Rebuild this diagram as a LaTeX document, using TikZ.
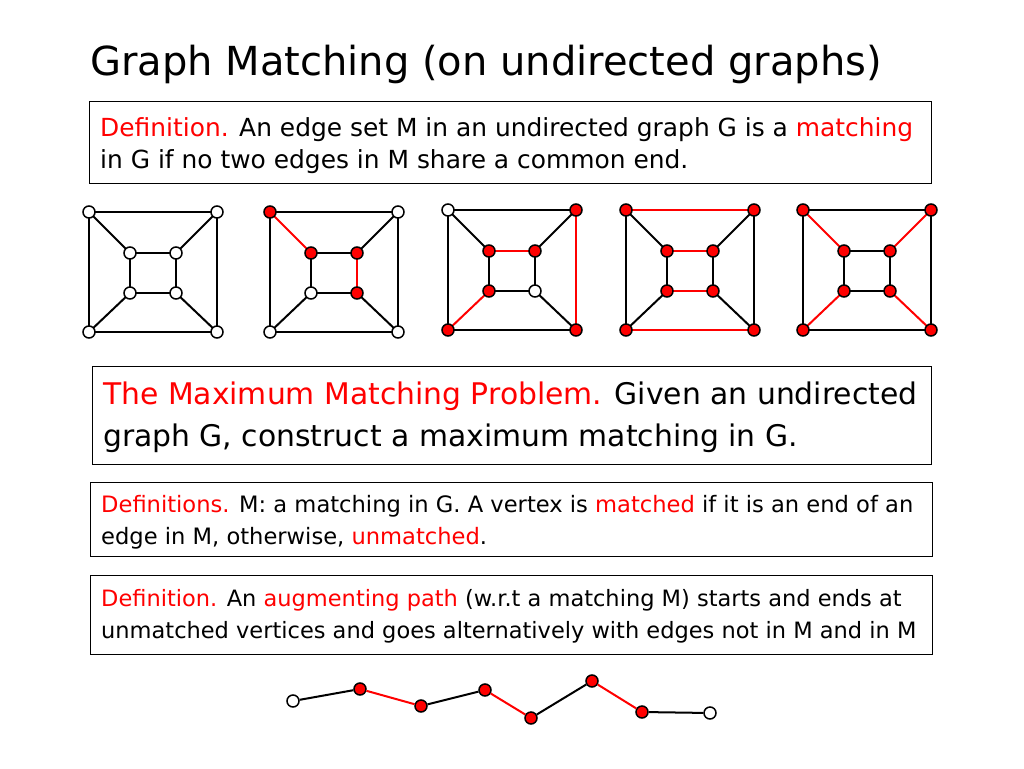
\documentclass[tikz,border=0pt]{standalone}
\usepackage{fontspec}
\setmainfont{DejaVu Sans}
\begin{document}
\begin{tikzpicture}[x=1pt,y=-1pt,
  v/.style={circle,draw,line width=1.5pt,fill=white,inner sep=0pt,minimum size=12pt},
  r/.style={v,fill=red},
  e/.style={line width=2pt},
  re/.style={e,red},
  box/.style={draw,line width=1pt},
  t/.style={anchor=base west,inner sep=0pt}]
\useasboundingbox (0,0) rectangle (1024,768);
\node[t,font=\fontsize{40}{44}\selectfont] (title) at (90,75) {Graph Matching (on undirected graphs)};
\draw[box] (89,101) rectangle (931,183);
\node[t,font=\fontsize{24.9}{28}\selectfont] (b1a) at (100,136) {\textcolor{red}{Definition.} An edge set M in an undirected graph G is a \textcolor{red}{matching}};
\node[t,font=\fontsize{24.9}{28}\selectfont] (b1b) at (100,168) {in G if no two edges in M share a common end.};
\draw[box] (92,366) rectangle (931,464);
\node[t,font=\fontsize{29.8}{34}\selectfont] (b2a) at (103,404) {\textcolor{red}{The Maximum Matching Problem.} Given an undirected};
\node[t,font=\fontsize{29.8}{34}\selectfont] (b2b) at (103,446) {graph G, construct a maximum matching in G.};
\draw[box] (90,482) rectangle (932,556);
\node[t,font=\fontsize{22.6}{26}\selectfont] (b3a) at (101,512) {\textcolor{red}{Definitions.} M: a matching in G. A vertex is \textcolor{red}{matched} if it is an end of an};
\node[t,font=\fontsize{22.6}{26}\selectfont] (b3b) at (101,544) {edge in M, otherwise, \textcolor{red}{unmatched}.};
\draw[box] (90,575) rectangle (932,654);
\node[t,font=\fontsize{22.5}{26}\selectfont] (b4a) at (101,606) {\textcolor{red}{Definition.} An \textcolor{red}{augmenting path} (w.r.t a matching M) starts and ends at};
\node[t,font=\fontsize{22.5}{26}\selectfont] (b4b) at (101,638) {unmatched vertices and goes alternatively with edges not in M and in M};
\newcommand{\gr}[4]{%
 \begin{scope}[shift={(#1,#2)}]
 \coordinate (A) at (0,0); \coordinate (B) at (128,0); \coordinate (C) at (128,120); \coordinate (D) at (0,120);
 \coordinate (a) at (41,41); \coordinate (b) at (87,41); \coordinate (c) at (87,81); \coordinate (d) at (41,81);
 \foreach \p/\q/\s in {#3} {\draw[\s] (\p) -- (\q);}
 \foreach \p/\s in {#4} {\node[\s] at (\p) {};}
 \end{scope}}
\gr{89}{212}{A/B/e,B/C/e,C/D/e,D/A/e,a/b/e,b/c/e,c/d/e,d/a/e,A/a/e,B/b/e,C/c/e,D/d/e}{A/v,B/v,C/v,D/v,a/v,b/v,c/v,d/v}
\gr{270}{212}{A/B/e,B/C/e,C/D/e,D/A/e,a/b/e,b/c/re,c/d/e,d/a/e,A/a/re,B/b/e,C/c/e,D/d/e}{A/r,B/v,C/v,D/v,a/r,b/r,c/r,d/v}
\gr{448}{210}{A/B/e,B/C/re,C/D/e,D/A/e,a/b/re,b/c/e,c/d/e,d/a/e,A/a/e,B/b/e,C/c/e,D/d/re}{A/v,B/r,C/r,D/r,a/r,b/r,c/v,d/r}
\gr{626}{210}{A/B/re,B/C/e,C/D/re,D/A/e,a/b/re,b/c/e,c/d/re,d/a/e,A/a/e,B/b/e,C/c/e,D/d/e}{A/r,B/r,C/r,D/r,a/r,b/r,c/r,d/r}
\gr{803}{210}{A/B/e,B/C/e,C/D/e,D/A/e,a/b/e,b/c/e,c/d/e,d/a/e,A/a/re,B/b/re,C/c/re,D/d/re}{A/r,B/r,C/r,D/r,a/r,b/r,c/r,d/r}
\node[v] (p1) at (293,701) {};
\node[r] (p2) at (360,689) {};
\node[r] (p3) at (421,706) {};
\node[r] (p4) at (485,690) {};
\node[r] (p5) at (531,718) {};
\node[r] (p6) at (592,681) {};
\node[r] (p7) at (642,712) {};
\node[v] (p8) at (710,713) {};
\draw[e] (p1)--(p2); \draw[re] (p2)--(p3); \draw[e] (p3)--(p4); \draw[re] (p4)--(p5);
\draw[e] (p5)--(p6); \draw[re] (p6)--(p7); \draw[e] (p7)--(p8);
\end{tikzpicture}
\end{document}
